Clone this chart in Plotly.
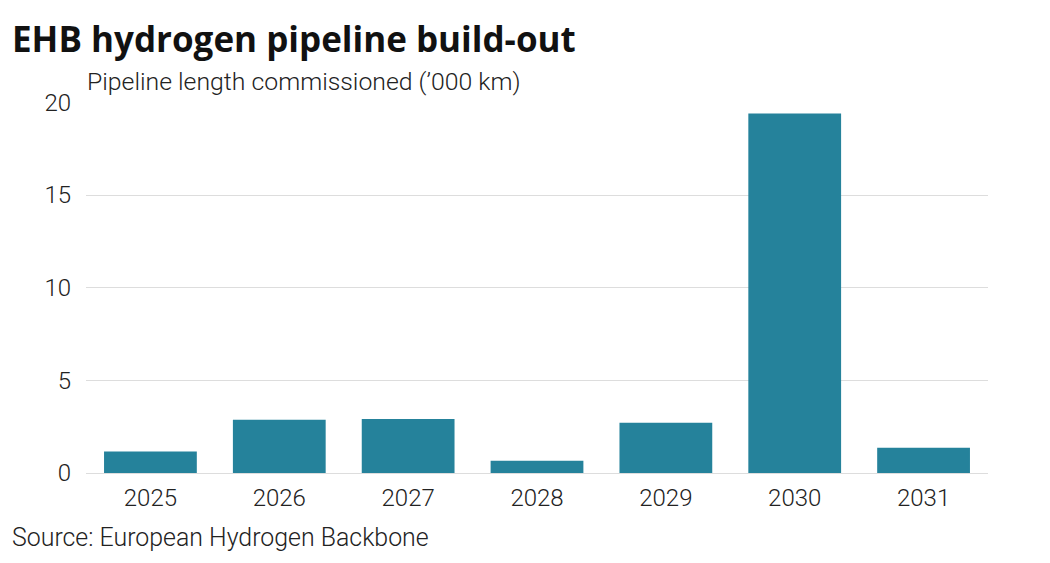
import plotly.graph_objects as go

years = ["2025", "2026", "2027", "2028", "2029", "2030", "2031"]
length_k_km = [1.16, 2.87, 2.91, 0.66, 2.71, 19.4, 1.36]
y_ticks = [0, 5, 10, 15, 20]

FONT = "Roboto"
TEXT = "#222222"

fig = go.Figure(
    go.Bar(
        x=years,
        y=length_k_km,
        marker=dict(color="#25829b", line=dict(width=0)),
        hoverinfo="x+y",
    )
)

W, H = 1050, 563
l, r, t, b = 86, 62, 102, 90
pw, ph = W - l - r, H - t - b

fig.update_layout(
    width=W,
    height=H,
    paper_bgcolor="white",
    plot_bgcolor="white",
    margin=dict(l=l, r=r, t=t, b=b),
    bargap=0.28,
    showlegend=False,
    font=dict(family=FONT, color=TEXT, size=20),
)

anns = []
specs = [
    ("<b>EHB hydrogen pipeline build-out</b>", 10, 38, 35, "#111111", "Open Sans", 700),
    ("Pipeline length commissioned (\u2019000 km)", 85, 81, 24.8, TEXT, FONT, 300),
    ("Source: European Hydrogen Backbone", 10, 537, 24.9, TEXT, FONT, 300),
]
for text, px, py, size, col, fam, wt in specs:
    anns.append(dict(
        text=text,
        x=(px - l) / pw,
        y=1 - (py - t) / ph,
        xref="paper", yref="paper",
        xanchor="left", yanchor="middle",
        showarrow=False,
        font=dict(family=fam, size=size, color=col, weight=wt),
    ))
fig.update_layout(annotations=anns)

fig.update_xaxes(
    type="category",
    showgrid=False,
    showline=False,
    zeroline=False,
    ticks="",
    tickfont=dict(family=FONT, size=24, color=TEXT, weight=300),
    ticklabelstandoff=8,
)
fig.update_yaxes(
    range=[0, 20.02],
    tickvals=y_ticks,
    showgrid=True,
    gridcolor="#dddddd",
    gridwidth=1,
    zeroline=True,
    zerolinecolor="#dddddd",
    zerolinewidth=1,
    showline=False,
    ticks="",
    tickfont=dict(family=FONT, size=24, color=TEXT, weight=300),
    ticklabelstandoff=14,
)

fig.write_html(
    "out.html",
    config={"displayModeBar": False},
    post_script="document.body.style.margin='0';document.body.style.padding='0';",
)
